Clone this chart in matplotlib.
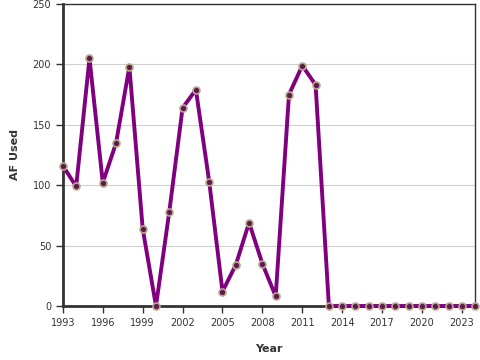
import matplotlib.pyplot as plt

years = list(range(1993, 2025))
af_used = [116, 99, 205, 102, 135, 198, 64, 0, 78, 164, 179, 103, 12, 34, 69, 35, 8, 175, 199, 183,
           0, 0, 0, 0, 0, 0, 0, 0, 0, 0, 0, 0]
xticks = list(range(1993, 2024, 3))
yticks = [0, 50, 100, 150, 200, 250]

fig = plt.figure(figsize=(4.8, 3.6), dpi=100)
ax = fig.add_axes([0.131, 0.15, 0.859, 0.839])

ax.plot(years, af_used, color="#800080", lw=2.8, zorder=3,
        marker="o", markersize=5, markerfacecolor="#5c1a50",
        markeredgecolor="#b8a888", markeredgewidth=1.2, clip_on=False)

ax.set_xlim(1993, 2024)
ax.set_ylim(0, 250)
ax.set_xticks(xticks)
ax.set_yticks(yticks)
ax.grid(axis="y", color="#d0d0d0", lw=0.8)
ax.set_axisbelow(True)

for side in ["left", "bottom"]:
    ax.spines[side].set_linewidth(2)
    ax.spines[side].set_color("#333333")
for side in ["top", "right"]:
    ax.spines[side].set_linewidth(1)
    ax.spines[side].set_color("#333333")

ax.tick_params(axis="both", labelsize=7, colors="#333333", length=5, width=1)
ax.set_xlabel("Year", fontsize=8, fontweight="bold", color="#333333", labelpad=12)
ax.set_ylabel("AF Used", fontsize=8, fontweight="bold", color="#333333", labelpad=9)

fig.savefig("out.png", dpi=100)
